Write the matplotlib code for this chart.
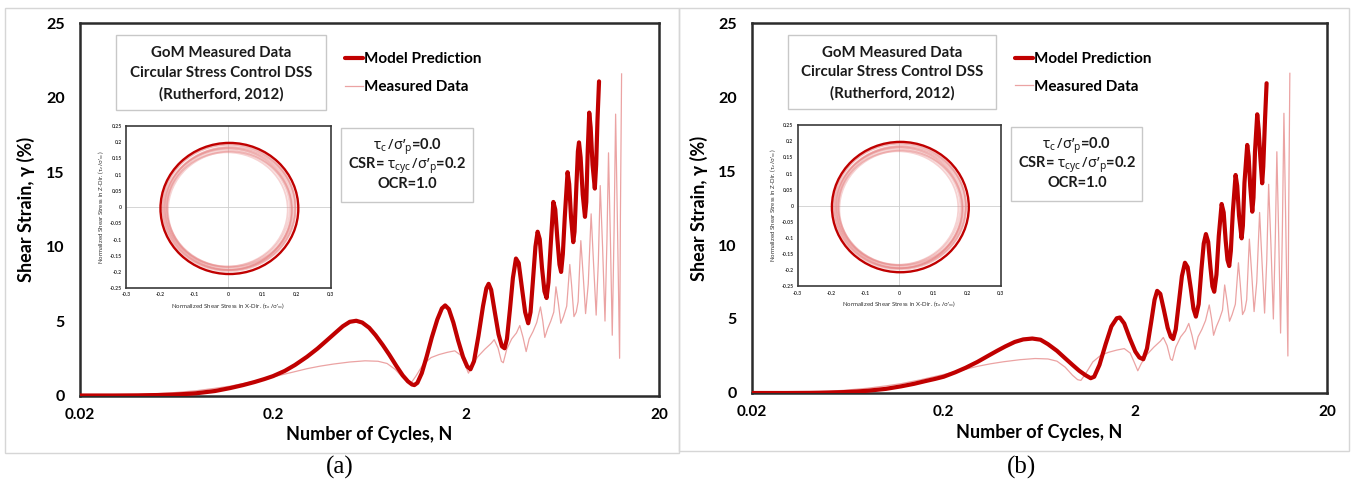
import matplotlib
matplotlib.use('Agg')
import matplotlib.pyplot as plt
from matplotlib.patches import Ellipse, Rectangle

plt.rcParams['font.family'] = ['Lato', 'Noto Sans', 'DejaVu Sans']
plt.rcParams['font.weight'] = 'bold'
plt.rcParams['mathtext.fontset'] = 'custom'
plt.rcParams['mathtext.rm'] = 'Noto Sans:bold'
plt.rcParams['mathtext.it'] = 'Noto Sans:bold'
plt.rcParams['mathtext.bf'] = 'Noto Sans:bold'
plt.rcParams['mathtext.sf'] = 'Noto Sans:bold'
plt.rcParams['axes.unicode_minus'] = False

# ---------------- data ----------------
x_ticks = [0.02, 0.2, 2, 20]
x_tick_labels = ['0.02', '0.2', '2', '20']
y_ticks = [0, 5, 10, 15, 20, 25]
y_tick_labels = ['0', '5', '10', '15', '20', '25']

inset_x_ticks = [-0.3, -0.2, -0.1, 0, 0.1, 0.2, 0.3]
inset_x_labels = ['-0.3', '-0.2', '-0.1', '0', '0.1', '0.2', '0.3']
inset_y_ticks = [-0.25, -0.2, -0.15, -0.1, -0.05, 0, 0.05, 0.1, 0.15, 0.2, 0.25]
inset_y_labels = ['-0.25', '-0.2', '-0.15', '-0.1', '-0.05', '0', '0.05', '0.1', '0.15', '0.2', '0.25']

# measured data (same test shown in both panels)
meas_N = [0.02, 0.03, 0.04, 0.05, 0.06, 0.08, 0.10, 0.12, 0.15, 0.20,
          0.25, 0.30, 0.35, 0.41, 0.50, 0.60, 0.70, 0.78, 0.86, 0.94,
          1.00, 1.04, 1.10, 1.20, 1.32, 1.45, 1.60, 1.75, 1.88, 1.97,
          2.06, 2.15, 2.30, 2.50, 2.70, 2.80, 2.93, 3.05, 3.12, 3.25,
          3.45, 3.65, 3.80, 3.95, 4.10, 4.25, 4.45, 4.65, 4.86, 5.00,
          5.12, 5.30, 5.50, 5.70, 5.85, 6.02, 6.20, 6.40, 6.65, 6.90,
          7.05, 7.25, 7.45, 7.62, 7.87, 8.10, 8.33, 8.60, 8.90, 9.15,
          9.45, 9.70, 9.92, 10.2, 10.5, 10.75, 10.95, 11.2, 11.45, 11.7,
          11.92, 12.2, 12.5, 12.62, 12.8]
meas_strain = [0.0, 0.02, 0.06, 0.12, 0.18, 0.32, 0.48, 0.63, 0.88, 1.25,
               1.55, 1.80, 1.97, 2.11, 2.25, 2.33, 2.30, 2.15, 1.75, 1.20,
               0.90, 0.85, 1.30, 2.10, 2.55, 2.75, 2.90, 3.00, 2.70, 2.10,
               1.50, 2.00, 2.60, 3.10, 3.50, 3.75, 3.20, 2.30, 2.20, 3.10,
               3.80, 4.20, 4.70, 3.90, 2.95, 3.80, 4.30, 4.90, 5.95, 5.00,
               3.90, 4.50, 5.00, 5.60, 7.30, 6.20, 4.85, 5.30, 6.00, 8.80,
               7.40, 5.30, 5.60, 6.30, 10.4, 8.0, 5.5, 7.5, 12.2, 9.0,
               5.4, 9.0, 14.1, 10.0, 5.0, 10.5, 16.3, 10.5, 4.05, 11.0,
               18.9, 11.0, 2.5, 12.0, 21.6]

# model prediction, panel (a)
model_a_N = [0.02, 0.03, 0.04, 0.05, 0.06, 0.07, 0.08, 0.10, 0.12, 0.14,
             0.16, 0.18, 0.20, 0.23, 0.26, 0.30, 0.34, 0.38, 0.42, 0.46,
             0.50, 0.54, 0.58, 0.63, 0.68, 0.74, 0.80, 0.87, 0.94, 1.00,
             1.05, 1.08, 1.12, 1.18, 1.25, 1.33, 1.42, 1.50, 1.56, 1.63,
             1.72, 1.82, 1.93, 2.03, 2.11, 2.20, 2.32, 2.45, 2.55, 2.62,
             2.70, 2.82, 2.95, 3.07, 3.17, 3.26, 3.38, 3.50, 3.63, 3.75,
             3.90, 4.05, 4.20, 4.32, 4.45, 4.58, 4.70, 4.82, 4.95, 5.10,
             5.23, 5.35, 5.50, 5.67, 5.80, 5.95, 6.10, 6.22, 6.35, 6.50,
             6.72, 6.85, 7.00, 7.19, 7.30, 7.45, 7.60, 7.70, 7.85, 8.05,
             8.27, 8.40, 8.55, 8.70, 8.85, 9.05, 9.30, 9.45, 9.60, 9.78]
model_a_strain = [0.00, 0.00, 0.01, 0.03, 0.06, 0.10, 0.15, 0.30, 0.50, 0.70,
                  0.90, 1.10, 1.30, 1.65, 2.05, 2.60, 3.15, 3.70, 4.20, 4.65,
                  4.95, 5.02, 4.90, 4.55, 4.05, 3.40, 2.75, 2.00, 1.35, 0.95,
                  0.74, 0.70, 0.85, 1.50, 2.60, 3.90, 5.10, 5.85, 6.05, 5.80,
                  4.90, 3.70, 2.60, 1.95, 1.76, 2.30, 4.00, 6.00, 7.20, 7.50,
                  7.10, 5.60, 4.10, 3.30, 3.17, 3.80, 5.80, 7.90, 9.20, 8.90,
                  7.20, 5.60, 4.85, 5.60, 7.80, 10.0, 11.0, 10.5, 8.60, 7.00,
                  6.55, 7.60, 10.2, 13.0, 12.5, 10.5, 8.80, 8.30, 9.50, 12.0,
                  15.0, 14.2, 12.0, 10.3, 11.0, 13.8, 16.4, 17.0, 16.0, 13.5,
                  12.0, 13.0, 16.5, 19.0, 18.0, 15.5, 13.9, 15.5, 18.5, 21.1]

# model prediction, panel (b)
model_b_N = [0.02, 0.03, 0.04, 0.05, 0.06, 0.07, 0.08, 0.10, 0.12, 0.14,
             0.16, 0.18, 0.20, 0.23, 0.26, 0.30, 0.34, 0.38, 0.42, 0.47,
             0.52, 0.58, 0.64, 0.70, 0.78, 0.86, 0.94, 1.02, 1.10, 1.17,
             1.22, 1.30, 1.40, 1.50, 1.60, 1.66, 1.75, 1.87, 2.00, 2.10,
             2.20, 2.30, 2.42, 2.52, 2.60, 2.70, 2.82, 2.95, 3.06, 3.15,
             3.25, 3.38, 3.50, 3.63, 3.75, 3.90, 4.02, 4.14, 4.28, 4.42,
             4.55, 4.67, 4.80, 4.93, 5.05, 5.16, 5.30, 5.45, 5.64, 5.78,
             5.92, 6.05, 6.18, 6.30, 6.45, 6.67, 6.80, 6.95, 7.17, 7.28,
             7.42, 7.67, 7.80, 7.95, 8.15, 8.27, 8.42, 8.65, 8.80, 8.97,
             9.18, 9.30, 9.50, 9.68]
model_b_strain = [0.00, 0.00, 0.01, 0.03, 0.06, 0.10, 0.15, 0.28, 0.45, 0.62,
                  0.80, 0.95, 1.10, 1.40, 1.70, 2.10, 2.50, 2.85, 3.15, 3.45,
                  3.62, 3.68, 3.60, 3.30, 2.85, 2.35, 1.90, 1.50, 1.20, 1.00,
                  1.10, 1.90, 3.30, 4.50, 5.05, 5.10, 4.70, 3.70, 2.80, 2.40,
                  2.28, 3.00, 4.80, 6.30, 6.90, 6.70, 5.60, 4.40, 3.80, 3.65,
                  4.30, 6.20, 7.90, 8.80, 8.50, 7.00, 5.70, 5.16, 6.00, 8.30,
                  10.1, 10.74, 10.2, 8.50, 7.20, 6.84, 8.00, 10.6, 12.77, 12.2,
                  10.3, 9.00, 8.58, 9.60, 12.2, 14.73, 14.0, 12.0, 10.45, 11.3,
                  14.2, 16.76, 16.0, 14.0, 12.25, 13.2, 16.3, 18.83, 17.8, 16.0,
                  14.17, 15.3, 18.5, 20.93]

# inset stress paths: model circle and measured loops
model_circle = {'cx': 0.003, 'cy': -0.004, 'r': 0.202}
loop_cx = [0.000, 0.004, -0.003, 0.006, 0.002, -0.001, 0.005, 0.001, -0.004, 0.003]
loop_cy = [-0.005, -0.002, -0.008, -0.004, 0.000, -0.006, -0.010, -0.003, -0.007, -0.001]
loop_rx = [0.180, 0.184, 0.188, 0.191, 0.194, 0.186, 0.182, 0.196, 0.178, 0.190]
loop_ry = [0.178, 0.183, 0.186, 0.190, 0.193, 0.188, 0.181, 0.195, 0.176, 0.185]

box1_lines = ['GoM Measured Data', 'Circular Stress Control DSS', '(Rutherford, 2012)']
box2_lines = ["$\\tau_{c}\\,/\\sigma’_{p}$=0.0",
              "CSR= $\\tau_{cyc}\\,/\\sigma’_{p}$=0.2",
              "OCR=1.0"]

DARK_RED = '#C00000'
MEAS_COLOR = (0.87, 0.40, 0.40, 0.6)

W, H = 1351, 490
fig = plt.figure(figsize=(W / 100, H / 100), dpi=100)

# panel outer frames
for (x0, y0, x1, y1) in [(5, 8, 679, 453), (679, 8, 1349, 451)]:
    fig.add_artist(Rectangle((x0 / W, 1 - y1 / H), (x1 - x0) / W, (y1 - y0) / H,
                             transform=fig.transFigure, fill=False,
                             ec='#D6D6D6', lw=1.0))


def draw_panel(px_left, px_right, px_top, px_bottom, model_N, model_s, tag, tag_x):
    ax = fig.add_axes([px_left / W, 1 - px_bottom / H,
                       (px_right - px_left) / W, (px_bottom - px_top) / H])
    meas_line, = ax.plot(meas_N, meas_strain, color=MEAS_COLOR, lw=0.9,
                         label='Measured Data', zorder=2)
    model_line, = ax.plot(model_N, model_s, color=DARK_RED, lw=3.0,
                          solid_joinstyle='round', solid_capstyle='round',
                          label='Model Prediction', zorder=3)
    ax.set_xscale('log')
    ax.set_xlim(0.02, 20)
    ax.set_ylim(0, 25)
    ax.set_xticks(x_ticks)
    ax.set_xticklabels(x_tick_labels)
    ax.xaxis.set_minor_locator(matplotlib.ticker.NullLocator())
    ax.set_yticks(y_ticks)
    ax.set_yticklabels(y_tick_labels)
    ax.tick_params(axis='x', length=0, pad=9, labelsize=11)
    ax.tick_params(axis='y', length=0, pad=11, labelsize=11.5)
    for lab in ax.get_xticklabels() + ax.get_yticklabels():
        lab.set_fontweight('bold')
    for sp in ax.spines.values():
        sp.set_color('#2b2b2b')
        sp.set_linewidth(1.8)
    ax.set_xlabel('Number of Cycles, N', fontsize=13, fontweight='bold')
    ax.set_ylabel('Shear Strain, γ (%)', fontsize=13, fontweight='bold')
    ax.xaxis.set_label_coords(0.5, -0.083)
    ax.xaxis.label.set_verticalalignment('top')
    ax.yaxis.set_label_coords(-0.093, 0.5)
    ax.yaxis.label.set_verticalalignment('center')

    # text box 1
    ax.add_patch(Rectangle((0.062, 0.767), 0.363, 0.2016, transform=ax.transAxes,
                           fill=False, ec='#C8C8C8', lw=1.0, zorder=4))
    for yy, t in zip([0.920, 0.8665, 0.809], box1_lines):
        ax.text(0.2435, yy, t, transform=ax.transAxes, ha='center', va='center',
                fontsize=10.8, fontweight='bold', color='#1a1a1a')

    # legend
    ax.legend(handles=[model_line, meas_line], loc='upper left',
              bbox_to_anchor=(0.457, 0.922), frameon=False,
              handlelength=1.2, handletextpad=0.05, labelspacing=0.9,
              borderaxespad=0, borderpad=0, prop={'weight': 'bold', 'size': 11})

    # text box 2
    ax.add_patch(Rectangle((0.451, 0.52), 0.228, 0.199, transform=ax.transAxes,
                           fill=False, ec='#C8C8C8', lw=1.0, zorder=4))
    for yy, t in zip([0.668, 0.617, 0.567], box2_lines):
        ax.text(0.565, yy, t, transform=ax.transAxes, ha='center', va='center',
                fontsize=10.5, fontweight='bold', color='#1a1a1a')

    # inset
    axin = ax.inset_axes([0.0795, 0.288, 0.3535, 0.436])
    axin.set_xlim(-0.3, 0.3)
    axin.set_ylim(-0.25, 0.25)
    axin.axhline(0, color='#CFCFCF', lw=0.6, zorder=0)
    axin.axvline(0, color='#CFCFCF', lw=0.6, zorder=0)
    for cx, cy, rx, ry in zip(loop_cx, loop_cy, loop_rx, loop_ry):
        axin.add_patch(Ellipse((cx, cy), 2 * rx, 2 * ry, fill=False,
                               ec=(0.90, 0.50, 0.50, 0.35), lw=1.3))
    axin.add_patch(Ellipse((model_circle['cx'], model_circle['cy']),
                           2 * model_circle['r'], 2 * model_circle['r'],
                           fill=False, ec=DARK_RED, lw=1.7))
    axin.set_xticks(inset_x_ticks)
    axin.set_xticklabels(inset_x_labels)
    axin.set_yticks(inset_y_ticks)
    axin.set_yticklabels(inset_y_labels)
    axin.tick_params(length=0, pad=3, labelsize=3.7, colors='#333333')
    for sp in axin.spines.values():
        sp.set_color('#3a3a3a')
        sp.set_linewidth(1.2)
    axin.set_xlabel("Normalized Shear Stress in X-Dir. ($\\tau_{x}\\,/\\sigma’_{vc}$)",
                    fontsize=4.4, labelpad=2.5, color='#333333')
    axin.set_ylabel("Normalized Shear Stress in Z-Dir. ($\\tau_{z}\\,/\\sigma’_{vc}$)",
                    fontsize=4.4, labelpad=2.5, color='#333333')

    fig.text(tag_x / W, 1 - 467 / H, tag, ha='center', va='center',
             fontsize=18, family='Liberation Serif', fontweight='normal')
    return ax


draw_panel(80, 659, 23.3, 395.5, model_a_N, model_a_strain, '(a)', 340)
draw_panel(752, 1327, 23, 393, model_b_N, model_b_strain, '(b)', 1022)

fig.savefig('out.png', dpi=100)
